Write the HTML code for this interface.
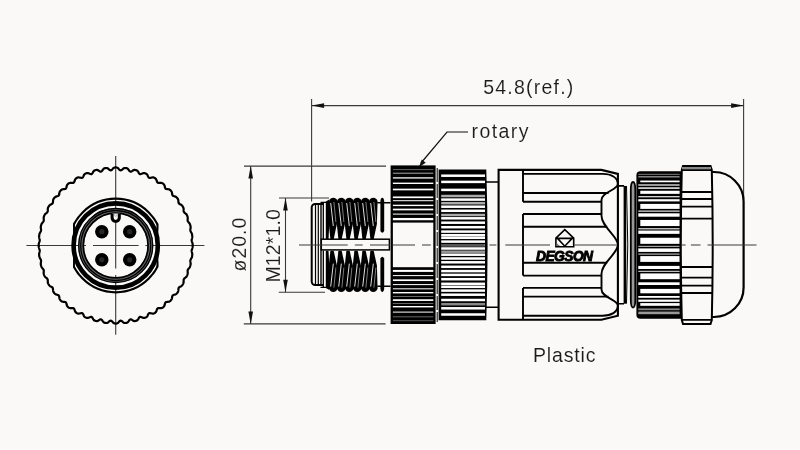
<!DOCTYPE html>
<html><head><meta charset="utf-8"><style>
html,body{margin:0;padding:0;background:#faf9f7;}
svg{display:block;will-change:transform;}
</style></head><body>
<svg width="800" height="450" viewBox="0 0 800 450">
<rect width="800" height="450" fill="#faf9f7"/>
<g stroke="#3a3a3a" stroke-width="1.1" fill="none"><path d="M26.4 245.5H86M93 245.5H138.6M145.4 245.5H204.4"/><path d="M115.7 156V216M115.7 222.5V268.5M115.7 275V334.7"/></g><path d="M192.70 245.50 L192.70 246.00 L192.69 246.51 L192.63 247.01 L192.54 247.51 L192.39 248.01 L192.22 248.51 L192.04 249.00 L191.87 249.49 L191.74 249.98 L191.68 250.48 L191.68 250.98 L191.75 251.49 L191.86 252.00 L192.00 252.51 L192.12 253.03 L192.22 253.54 L192.27 254.05 L192.27 254.56 L192.24 255.07 L192.18 255.57 L192.12 256.07 L192.04 256.57 L191.91 257.06 L191.74 257.54 L191.51 258.02 L191.25 258.48 L190.98 258.94 L190.73 259.41 L190.52 259.88 L190.39 260.36 L190.33 260.85 L190.34 261.37 L190.41 261.89 L190.50 262.42 L190.58 262.96 L190.62 263.49 L190.62 264.01 L190.57 264.51 L190.47 265.01 L190.35 265.50 L190.22 265.99 L190.07 266.47 L189.87 266.94 L189.62 267.40 L189.31 267.83 L188.96 268.25 L188.60 268.66 L188.26 269.08 L187.98 269.51 L187.77 269.96 L187.65 270.45 L187.61 270.97 L187.64 271.50 L187.69 272.06 L187.73 272.61 L187.73 273.15 L187.68 273.67 L187.57 274.17 L187.41 274.66 L187.23 275.13 L187.03 275.60 L186.82 276.05 L186.55 276.49 L186.22 276.90 L185.83 277.27 L185.39 277.63 L184.95 277.97 L184.52 278.33 L184.16 278.71 L183.89 279.13 L183.71 279.60 L183.63 280.11 L183.61 280.66 L183.62 281.24 L183.62 281.81 L183.59 282.36 L183.48 282.88 L183.32 283.37 L183.10 283.83 L182.86 284.27 L182.61 284.71 L182.33 285.14 L181.99 285.53 L181.59 285.88 L181.13 286.18 L180.61 286.46 L180.09 286.72 L179.59 286.99 L179.16 287.31 L178.83 287.68 L178.60 288.13 L178.47 288.64 L178.41 289.21 L178.38 289.80 L178.34 290.39 L178.26 290.95 L178.11 291.47 L177.89 291.94 L177.62 292.37 L177.32 292.78 L177.01 293.19 L176.67 293.57 L176.28 293.90 L175.82 294.18 L175.29 294.40 L174.71 294.58 L174.12 294.74 L173.57 294.92 L173.08 295.16 L172.70 295.48 L172.42 295.90 L172.24 296.41 L172.13 296.99 L172.06 297.60 L171.97 298.21 L171.84 298.78 L171.64 299.29 L171.37 299.73 L171.05 300.13 L170.70 300.50 L170.34 300.86 L169.95 301.19 L169.50 301.46 L168.99 301.66 L168.42 301.78 L167.79 301.85 L167.16 301.91 L166.56 301.99 L166.04 302.14 L165.60 302.41 L165.28 302.79 L165.06 303.29 L164.90 303.87 L164.77 304.50 L164.63 305.12 L164.44 305.69 L164.19 306.19 L163.87 306.61 L163.50 306.96 L163.11 307.28 L162.70 307.59 L162.27 307.86 L161.78 308.06 L161.24 308.18 L160.63 308.20 L159.98 308.16 L159.33 308.10 L158.71 308.08 L158.15 308.14 L157.69 308.34 L157.32 308.68 L157.05 309.17 L156.83 309.75 L156.64 310.39 L156.44 311.01 L156.19 311.58 L155.89 312.06 L155.52 312.44 L155.11 312.74 L154.68 313.01 L154.23 313.26 L153.76 313.47 L153.25 313.60 L152.69 313.62 L152.07 313.54 L151.42 313.39 L150.76 313.22 L150.14 313.09 L149.57 313.06 L149.08 313.19 L148.68 313.49 L148.35 313.95 L148.07 314.53 L147.81 315.16 L147.54 315.78 L147.24 316.33 L146.88 316.78 L146.47 317.12 L146.02 317.37 L145.56 317.58 L145.08 317.77 L144.59 317.91 L144.06 317.96 L143.49 317.90 L142.88 317.72 L142.25 317.46 L141.61 317.18 L141.00 316.94 L140.44 316.83 L139.93 316.89 L139.50 317.14 L139.12 317.57 L138.77 318.13 L138.44 318.74 L138.10 319.35 L137.73 319.87 L137.32 320.28 L136.87 320.57 L136.39 320.76 L135.90 320.90 L135.41 321.03 L134.90 321.10 L134.37 321.08 L133.81 320.93 L133.22 320.66 L132.62 320.30 L132.03 319.91 L131.45 319.59 L130.90 319.39 L130.40 319.39 L129.93 319.58 L129.50 319.97 L129.09 320.49 L128.69 321.08 L128.27 321.64 L127.84 322.13 L127.38 322.49 L126.90 322.72 L126.40 322.85 L125.89 322.92 L125.39 322.98 L124.87 322.99 L124.35 322.89 L123.81 322.66 L123.26 322.30 L122.72 321.86 L122.17 321.39 L121.64 320.99 L121.12 320.72 L120.63 320.64 L120.14 320.78 L119.66 321.11 L119.19 321.59 L118.71 322.12 L118.23 322.63 L117.73 323.06 L117.23 323.36 L116.72 323.53 L116.21 323.59 L115.70 323.60 L115.19 323.59 L114.68 323.53 L114.17 323.36 L113.67 323.06 L113.17 322.63 L112.69 322.12 L112.21 321.59 L111.74 321.11 L111.26 320.78 L110.77 320.64 L110.28 320.72 L109.76 320.99 L109.23 321.39 L108.68 321.86 L108.14 322.30 L107.59 322.66 L107.05 322.89 L106.53 322.99 L106.01 322.98 L105.51 322.92 L105.00 322.85 L104.50 322.72 L104.02 322.49 L103.56 322.13 L103.13 321.64 L102.71 321.08 L102.31 320.49 L101.90 319.97 L101.47 319.58 L101.00 319.39 L100.50 319.39 L99.95 319.59 L99.37 319.91 L98.78 320.30 L98.18 320.66 L97.59 320.93 L97.03 321.08 L96.50 321.10 L95.99 321.03 L95.50 320.90 L95.01 320.76 L94.53 320.57 L94.08 320.28 L93.67 319.87 L93.30 319.35 L92.96 318.74 L92.63 318.13 L92.28 317.57 L91.90 317.14 L91.47 316.89 L90.96 316.83 L90.40 316.94 L89.79 317.18 L89.15 317.46 L88.52 317.72 L87.91 317.90 L87.34 317.96 L86.81 317.91 L86.32 317.77 L85.84 317.58 L85.38 317.37 L84.93 317.12 L84.52 316.78 L84.16 316.33 L83.86 315.78 L83.59 315.16 L83.33 314.53 L83.05 313.95 L82.72 313.49 L82.32 313.19 L81.83 313.06 L81.26 313.09 L80.64 313.22 L79.98 313.39 L79.33 313.54 L78.71 313.62 L78.15 313.60 L77.64 313.47 L77.17 313.26 L76.72 313.01 L76.29 312.74 L75.88 312.44 L75.51 312.06 L75.21 311.58 L74.96 311.01 L74.76 310.39 L74.57 309.75 L74.35 309.17 L74.08 308.68 L73.71 308.34 L73.25 308.14 L72.69 308.08 L72.07 308.10 L71.42 308.16 L70.77 308.20 L70.16 308.18 L69.62 308.06 L69.13 307.86 L68.70 307.59 L68.29 307.28 L67.90 306.96 L67.53 306.61 L67.21 306.19 L66.96 305.69 L66.77 305.12 L66.63 304.50 L66.50 303.87 L66.34 303.29 L66.12 302.79 L65.80 302.41 L65.36 302.14 L64.84 301.99 L64.24 301.91 L63.61 301.85 L62.98 301.78 L62.41 301.66 L61.90 301.46 L61.45 301.19 L61.06 300.86 L60.70 300.50 L60.35 300.13 L60.03 299.73 L59.76 299.29 L59.56 298.78 L59.43 298.21 L59.34 297.60 L59.27 296.99 L59.16 296.41 L58.98 295.90 L58.70 295.48 L58.32 295.16 L57.83 294.92 L57.28 294.74 L56.69 294.58 L56.11 294.40 L55.58 294.18 L55.12 293.90 L54.73 293.57 L54.39 293.19 L54.08 292.78 L53.78 292.37 L53.51 291.94 L53.29 291.47 L53.14 290.95 L53.06 290.39 L53.02 289.80 L52.99 289.21 L52.93 288.64 L52.80 288.13 L52.57 287.68 L52.24 287.31 L51.81 286.99 L51.31 286.72 L50.79 286.46 L50.27 286.18 L49.81 285.88 L49.41 285.53 L49.07 285.14 L48.79 284.71 L48.54 284.27 L48.30 283.83 L48.08 283.37 L47.92 282.88 L47.81 282.36 L47.78 281.81 L47.78 281.24 L47.79 280.66 L47.77 280.11 L47.69 279.60 L47.51 279.13 L47.24 278.71 L46.88 278.33 L46.45 277.97 L46.01 277.63 L45.57 277.27 L45.18 276.90 L44.85 276.49 L44.58 276.05 L44.37 275.60 L44.17 275.13 L43.99 274.66 L43.83 274.17 L43.72 273.67 L43.67 273.15 L43.67 272.61 L43.71 272.06 L43.76 271.50 L43.79 270.97 L43.75 270.45 L43.63 269.96 L43.42 269.51 L43.14 269.08 L42.80 268.66 L42.44 268.25 L42.09 267.83 L41.78 267.40 L41.53 266.94 L41.33 266.47 L41.18 265.99 L41.05 265.50 L40.93 265.01 L40.83 264.51 L40.78 264.01 L40.78 263.49 L40.82 262.96 L40.90 262.42 L40.99 261.89 L41.06 261.37 L41.07 260.85 L41.01 260.36 L40.88 259.88 L40.67 259.41 L40.42 258.94 L40.15 258.48 L39.89 258.02 L39.66 257.54 L39.49 257.06 L39.36 256.57 L39.28 256.07 L39.22 255.57 L39.16 255.07 L39.13 254.56 L39.13 254.05 L39.18 253.54 L39.28 253.03 L39.40 252.51 L39.54 252.00 L39.65 251.49 L39.72 250.98 L39.72 250.48 L39.66 249.98 L39.53 249.49 L39.36 249.00 L39.18 248.51 L39.01 248.01 L38.86 247.51 L38.77 247.01 L38.71 246.51 L38.70 246.00 L38.70 245.50 L38.70 245.00 L38.71 244.49 L38.77 243.99 L38.86 243.49 L39.01 242.99 L39.18 242.49 L39.36 242.00 L39.53 241.51 L39.66 241.02 L39.72 240.52 L39.72 240.02 L39.65 239.51 L39.54 239.00 L39.40 238.49 L39.28 237.97 L39.18 237.46 L39.13 236.95 L39.13 236.44 L39.16 235.93 L39.22 235.43 L39.28 234.93 L39.36 234.43 L39.49 233.94 L39.66 233.46 L39.89 232.98 L40.15 232.52 L40.42 232.06 L40.67 231.59 L40.88 231.12 L41.01 230.64 L41.07 230.15 L41.06 229.63 L40.99 229.11 L40.90 228.58 L40.82 228.04 L40.78 227.51 L40.78 226.99 L40.83 226.49 L40.93 225.99 L41.05 225.50 L41.18 225.01 L41.33 224.53 L41.53 224.06 L41.78 223.60 L42.09 223.17 L42.44 222.75 L42.80 222.34 L43.14 221.92 L43.42 221.49 L43.63 221.04 L43.75 220.55 L43.79 220.03 L43.76 219.50 L43.71 218.94 L43.67 218.39 L43.67 217.85 L43.72 217.33 L43.83 216.83 L43.99 216.34 L44.17 215.87 L44.37 215.40 L44.58 214.95 L44.85 214.51 L45.18 214.10 L45.57 213.73 L46.01 213.37 L46.45 213.03 L46.88 212.67 L47.24 212.29 L47.51 211.87 L47.69 211.40 L47.77 210.89 L47.79 210.34 L47.78 209.76 L47.78 209.19 L47.81 208.64 L47.92 208.12 L48.08 207.63 L48.30 207.17 L48.54 206.73 L48.79 206.29 L49.07 205.86 L49.41 205.47 L49.81 205.12 L50.27 204.82 L50.79 204.54 L51.31 204.28 L51.81 204.01 L52.24 203.69 L52.57 203.32 L52.80 202.87 L52.93 202.36 L52.99 201.79 L53.02 201.20 L53.06 200.61 L53.14 200.05 L53.29 199.53 L53.51 199.06 L53.78 198.63 L54.08 198.22 L54.39 197.81 L54.73 197.43 L55.12 197.10 L55.58 196.82 L56.11 196.60 L56.69 196.42 L57.28 196.26 L57.83 196.08 L58.32 195.84 L58.70 195.52 L58.98 195.10 L59.16 194.59 L59.27 194.01 L59.34 193.40 L59.43 192.79 L59.56 192.22 L59.76 191.71 L60.03 191.27 L60.35 190.87 L60.70 190.50 L61.06 190.14 L61.45 189.81 L61.90 189.54 L62.41 189.34 L62.98 189.22 L63.61 189.15 L64.24 189.09 L64.84 189.01 L65.36 188.86 L65.80 188.59 L66.12 188.21 L66.34 187.71 L66.50 187.13 L66.63 186.50 L66.77 185.88 L66.96 185.31 L67.21 184.81 L67.53 184.39 L67.90 184.04 L68.29 183.72 L68.70 183.41 L69.13 183.14 L69.62 182.94 L70.16 182.82 L70.77 182.80 L71.42 182.84 L72.07 182.90 L72.69 182.92 L73.25 182.86 L73.71 182.66 L74.08 182.32 L74.35 181.83 L74.57 181.25 L74.76 180.61 L74.96 179.99 L75.21 179.42 L75.51 178.94 L75.88 178.56 L76.29 178.26 L76.72 177.99 L77.17 177.74 L77.64 177.53 L78.15 177.40 L78.71 177.38 L79.33 177.46 L79.98 177.61 L80.64 177.78 L81.26 177.91 L81.83 177.94 L82.32 177.81 L82.72 177.51 L83.05 177.05 L83.33 176.47 L83.59 175.84 L83.86 175.22 L84.16 174.67 L84.52 174.22 L84.93 173.88 L85.38 173.63 L85.84 173.42 L86.32 173.23 L86.81 173.09 L87.34 173.04 L87.91 173.10 L88.52 173.28 L89.15 173.54 L89.79 173.82 L90.40 174.06 L90.96 174.17 L91.47 174.11 L91.90 173.86 L92.28 173.43 L92.63 172.87 L92.96 172.26 L93.30 171.65 L93.67 171.13 L94.08 170.72 L94.53 170.43 L95.01 170.24 L95.50 170.10 L95.99 169.97 L96.50 169.90 L97.03 169.92 L97.59 170.07 L98.18 170.34 L98.78 170.70 L99.37 171.09 L99.95 171.41 L100.50 171.61 L101.00 171.61 L101.47 171.42 L101.90 171.03 L102.31 170.51 L102.71 169.92 L103.13 169.36 L103.56 168.87 L104.02 168.51 L104.50 168.28 L105.00 168.15 L105.51 168.08 L106.01 168.02 L106.53 168.01 L107.05 168.11 L107.59 168.34 L108.14 168.70 L108.68 169.14 L109.23 169.61 L109.76 170.01 L110.28 170.28 L110.77 170.36 L111.26 170.22 L111.74 169.89 L112.21 169.41 L112.69 168.88 L113.17 168.37 L113.67 167.94 L114.17 167.64 L114.68 167.47 L115.19 167.41 L115.70 167.40 L116.21 167.41 L116.72 167.47 L117.23 167.64 L117.73 167.94 L118.23 168.37 L118.71 168.88 L119.19 169.41 L119.66 169.89 L120.14 170.22 L120.63 170.36 L121.12 170.28 L121.64 170.01 L122.17 169.61 L122.72 169.14 L123.26 168.70 L123.81 168.34 L124.35 168.11 L124.87 168.01 L125.39 168.02 L125.89 168.08 L126.40 168.15 L126.90 168.28 L127.38 168.51 L127.84 168.87 L128.27 169.36 L128.69 169.92 L129.09 170.51 L129.50 171.03 L129.93 171.42 L130.40 171.61 L130.90 171.61 L131.45 171.41 L132.03 171.09 L132.62 170.70 L133.22 170.34 L133.81 170.07 L134.37 169.92 L134.90 169.90 L135.41 169.97 L135.90 170.10 L136.39 170.24 L136.87 170.43 L137.32 170.72 L137.73 171.13 L138.10 171.65 L138.44 172.26 L138.77 172.87 L139.12 173.43 L139.50 173.86 L139.93 174.11 L140.44 174.17 L141.00 174.06 L141.61 173.82 L142.25 173.54 L142.88 173.28 L143.49 173.10 L144.06 173.04 L144.59 173.09 L145.08 173.23 L145.56 173.42 L146.02 173.63 L146.47 173.88 L146.88 174.22 L147.24 174.67 L147.54 175.22 L147.81 175.84 L148.07 176.47 L148.35 177.05 L148.68 177.51 L149.08 177.81 L149.57 177.94 L150.14 177.91 L150.76 177.78 L151.42 177.61 L152.07 177.46 L152.69 177.38 L153.25 177.40 L153.76 177.53 L154.23 177.74 L154.68 177.99 L155.11 178.26 L155.52 178.56 L155.89 178.94 L156.19 179.42 L156.44 179.99 L156.64 180.61 L156.83 181.25 L157.05 181.83 L157.32 182.32 L157.69 182.66 L158.15 182.86 L158.71 182.92 L159.33 182.90 L159.98 182.84 L160.63 182.80 L161.24 182.82 L161.78 182.94 L162.27 183.14 L162.70 183.41 L163.11 183.72 L163.50 184.04 L163.87 184.39 L164.19 184.81 L164.44 185.31 L164.63 185.88 L164.77 186.50 L164.90 187.13 L165.06 187.71 L165.28 188.21 L165.60 188.59 L166.04 188.86 L166.56 189.01 L167.16 189.09 L167.79 189.15 L168.42 189.22 L168.99 189.34 L169.50 189.54 L169.95 189.81 L170.34 190.14 L170.70 190.50 L171.05 190.87 L171.37 191.27 L171.64 191.71 L171.84 192.22 L171.97 192.79 L172.06 193.40 L172.13 194.01 L172.24 194.59 L172.42 195.10 L172.70 195.52 L173.08 195.84 L173.57 196.08 L174.12 196.26 L174.71 196.42 L175.29 196.60 L175.82 196.82 L176.28 197.10 L176.67 197.43 L177.01 197.81 L177.32 198.22 L177.62 198.63 L177.89 199.06 L178.11 199.53 L178.26 200.05 L178.34 200.61 L178.38 201.20 L178.41 201.79 L178.47 202.36 L178.60 202.87 L178.83 203.32 L179.16 203.69 L179.59 204.01 L180.09 204.28 L180.61 204.54 L181.13 204.82 L181.59 205.12 L181.99 205.47 L182.33 205.86 L182.61 206.29 L182.86 206.73 L183.10 207.17 L183.32 207.63 L183.48 208.12 L183.59 208.64 L183.62 209.19 L183.62 209.76 L183.61 210.34 L183.63 210.89 L183.71 211.40 L183.89 211.87 L184.16 212.29 L184.52 212.67 L184.95 213.03 L185.39 213.37 L185.83 213.73 L186.22 214.10 L186.55 214.51 L186.82 214.95 L187.03 215.40 L187.23 215.87 L187.41 216.34 L187.57 216.83 L187.68 217.33 L187.73 217.85 L187.73 218.39 L187.69 218.94 L187.64 219.50 L187.61 220.03 L187.65 220.55 L187.77 221.04 L187.98 221.49 L188.26 221.92 L188.60 222.34 L188.96 222.75 L189.31 223.17 L189.62 223.60 L189.87 224.06 L190.07 224.53 L190.22 225.01 L190.35 225.50 L190.47 225.99 L190.57 226.49 L190.62 226.99 L190.62 227.51 L190.58 228.04 L190.50 228.58 L190.41 229.11 L190.34 229.63 L190.33 230.15 L190.39 230.64 L190.52 231.12 L190.73 231.59 L190.98 232.06 L191.25 232.52 L191.51 232.98 L191.74 233.46 L191.91 233.94 L192.04 234.43 L192.12 234.93 L192.18 235.43 L192.24 235.93 L192.27 236.44 L192.27 236.95 L192.22 237.46 L192.12 237.97 L192.00 238.49 L191.86 239.00 L191.75 239.51 L191.68 240.02 L191.68 240.52 L191.74 241.02 L191.87 241.51 L192.04 242.00 L192.22 242.49 L192.39 242.99 L192.54 243.49 L192.63 243.99 L192.69 244.49 L192.70 245.00 L192.70 245.50Z" fill="none" stroke="#000" stroke-width="2.2"/><clipPath id="flat"><rect x="73.1" y="150" width="85.2" height="200"/></clipPath><circle cx="115.7" cy="245.5" r="46.8" fill="none" stroke="#000" stroke-width="2.2" clip-path="url(#flat)"/><path d="M74.0 223.59908677703143V267.4009132229686M157.4 223.59908677703143V267.4009132229686" stroke="#000" stroke-width="1.9"/><circle cx="115.7" cy="245.5" r="42.1" fill="none" stroke="#000" stroke-width="4.6"/><circle cx="115.7" cy="245.5" r="34.7" fill="none" stroke="#666" stroke-width="5.8"/><circle cx="115.7" cy="245.5" r="37.0" fill="none" stroke="#000" stroke-width="1.3"/><circle cx="115.7" cy="245.5" r="35.0" fill="none" stroke="#000" stroke-width="1.3"/><circle cx="115.7" cy="245.5" r="32.4" fill="none" stroke="#000" stroke-width="1.7"/><path d="M112.10000000000001 213.4V217.8A3.6 3.6 0 0 0 119.3 217.8V213.4" fill="#faf9f7" stroke="#000" stroke-width="3.0"/><path d="M114.60000000000001 214.2V215.2A1.1 1.1 0 0 0 116.8 215.2V214.2" fill="none" stroke="#999" stroke-width="0.7"/><circle cx="101.8" cy="231.7" r="6.75" fill="#000"/><circle cx="101.8" cy="231.7" r="2.6" fill="#262626"/><circle cx="101.8" cy="259.8" r="6.75" fill="#000"/><circle cx="101.8" cy="259.8" r="2.6" fill="#262626"/><circle cx="129.7" cy="231.7" r="6.75" fill="#000"/><circle cx="129.7" cy="231.7" r="2.6" fill="#262626"/><circle cx="129.7" cy="259.8" r="6.75" fill="#000"/><circle cx="129.7" cy="259.8" r="2.6" fill="#262626"/><g stroke="#3a3a3a" stroke-width="1.1" fill="none"><path d="M311.6 99V201.5M743.6 99V200M311.6 105.6H743.6"/><path d="M244 166.1H386M243.8 323.9H385.6M250.7 166.1V323.9"/><path d="M279 198H329M278.8 292.3H325M285.5 198V292.3"/><path d="M468 132H447L421 163" stroke="#111" stroke-width="1.2"/></g><path d="M311.6 105.6L324.10 103.30L324.10 107.90Z" fill="#111"/><path d="M743.6 105.6L731.10 107.90L731.10 103.30Z" fill="#111"/><path d="M250.7 166.1L253.00 178.60L248.40 178.60Z" fill="#111"/><path d="M250.7 323.9L248.40 311.40L253.00 311.40Z" fill="#111"/><path d="M285.5 198L287.80 210.50L283.20 210.50Z" fill="#111"/><path d="M285.5 292.3L283.20 279.80L287.80 279.80Z" fill="#111"/><path d="M419 167L421.73 159.55L425.76 162.84Z" fill="#111"/><g font-family="Liberation Sans, sans-serif" font-size="19.5" fill="#1a1a1a" stroke="#faf9f7" stroke-width="0.1"><text x="483.2" y="94.2" letter-spacing="1.22">54.8(ref.)</text><text x="471.6" y="137.7" letter-spacing="1.4">rotary</text><text x="533" y="362" letter-spacing="0.85">Plastic</text><text transform="translate(245.6 271.5) rotate(-90)" letter-spacing="1.0">ø20.0</text><text transform="translate(279.6 282.6) rotate(-90)" letter-spacing="0.15">M12*1.0</text></g><path d="M324 204H315.2A3.5 3.5 0 0 0 311.7 207.5V281.5A3.5 3.5 0 0 0 315.2 285H324" fill="none" stroke="#000" stroke-width="2"/><path d="M315.5 204.5V284.5M318.3 204.5V284.5" stroke="#000" stroke-width="1.2"/><path d="M321.0 204V285" stroke="#000" stroke-width="1.4"/><path d="M320.5 202.3H326.5M323.3 202.3V239.2" stroke="#000" stroke-width="1.3" fill="none"/><path d="M325.8 201.5L329.3 199.5V224L328.5 238.9H325.8Z" fill="#000"/><path d="M329.00 201.4 C329.70 196.5 336.90 196.5 337.60 201.4 L336.90 224 L333.70 238.9 L330.40 238.9 L328.80 224Z" fill="#000"/><path d="M330.70 203L333.30 226" stroke="#ddd" stroke-width="1.0"/><path d="M333.90 202L335.90 222" stroke="#999" stroke-width="0.8"/><path d="M337.00 201.4 C337.70 196.5 344.90 196.5 345.60 201.4 L344.90 224 L341.70 238.9 L338.40 238.9 L336.80 224Z" fill="#000"/><path d="M338.70 203L341.30 226" stroke="#ddd" stroke-width="1.0"/><path d="M341.90 202L343.90 222" stroke="#999" stroke-width="0.8"/><path d="M345.00 201.4 C345.70 196.5 352.90 196.5 353.60 201.4 L352.90 224 L349.70 238.9 L346.40 238.9 L344.80 224Z" fill="#000"/><path d="M346.70 203L349.30 226" stroke="#ddd" stroke-width="1.0"/><path d="M349.90 202L351.90 222" stroke="#999" stroke-width="0.8"/><path d="M353.00 201.4 C353.70 196.5 360.90 196.5 361.60 201.4 L360.90 224 L357.70 238.9 L354.40 238.9 L352.80 224Z" fill="#000"/><path d="M354.70 203L357.30 226" stroke="#ddd" stroke-width="1.0"/><path d="M357.90 202L359.90 222" stroke="#999" stroke-width="0.8"/><path d="M361.00 201.4 C361.70 196.5 368.90 196.5 369.60 201.4 L368.90 224 L365.70 238.9 L362.40 238.9 L360.80 224Z" fill="#000"/><path d="M362.70 203L365.30 226" stroke="#ddd" stroke-width="1.0"/><path d="M365.90 202L367.90 222" stroke="#999" stroke-width="0.8"/><path d="M369.00 201.4 C369.70 196.5 376.90 196.5 377.60 201.4 L376.90 224 L373.70 238.9 L370.40 238.9 L368.80 224Z" fill="#000"/><path d="M370.70 203L373.30 226" stroke="#ddd" stroke-width="1.0"/><path d="M373.90 202L375.90 222" stroke="#999" stroke-width="0.8"/><path d="M380.4 201C380.7 196.5 383.9 196.5 384.2 201V231Q382.3 234.5 380.4 231Z" fill="#000"/><path d="M320.5 287.3H326.5M323.3 287.3V250.40000000000003" stroke="#000" stroke-width="1.3" fill="none"/><path d="M325.8 288.1L329.3 290.1V265.6L328.5 250.70000000000002H325.8Z" fill="#000"/><path d="M329.00 288.20000000000005 C329.70 293.1 336.90 293.1 337.60 288.20000000000005 L336.90 265.6 L333.70 250.70000000000002 L330.40 250.70000000000002 L328.80 265.6Z" fill="#000"/><path d="M330.70 286.6L333.30 263.6" stroke="#ddd" stroke-width="1.0"/><path d="M333.90 287.6L335.90 267.6" stroke="#999" stroke-width="0.8"/><path d="M337.00 288.20000000000005 C337.70 293.1 344.90 293.1 345.60 288.20000000000005 L344.90 265.6 L341.70 250.70000000000002 L338.40 250.70000000000002 L336.80 265.6Z" fill="#000"/><path d="M338.70 286.6L341.30 263.6" stroke="#ddd" stroke-width="1.0"/><path d="M341.90 287.6L343.90 267.6" stroke="#999" stroke-width="0.8"/><path d="M345.00 288.20000000000005 C345.70 293.1 352.90 293.1 353.60 288.20000000000005 L352.90 265.6 L349.70 250.70000000000002 L346.40 250.70000000000002 L344.80 265.6Z" fill="#000"/><path d="M346.70 286.6L349.30 263.6" stroke="#ddd" stroke-width="1.0"/><path d="M349.90 287.6L351.90 267.6" stroke="#999" stroke-width="0.8"/><path d="M353.00 288.20000000000005 C353.70 293.1 360.90 293.1 361.60 288.20000000000005 L360.90 265.6 L357.70 250.70000000000002 L354.40 250.70000000000002 L352.80 265.6Z" fill="#000"/><path d="M354.70 286.6L357.30 263.6" stroke="#ddd" stroke-width="1.0"/><path d="M357.90 287.6L359.90 267.6" stroke="#999" stroke-width="0.8"/><path d="M361.00 288.20000000000005 C361.70 293.1 368.90 293.1 369.60 288.20000000000005 L368.90 265.6 L365.70 250.70000000000002 L362.40 250.70000000000002 L360.80 265.6Z" fill="#000"/><path d="M362.70 286.6L365.30 263.6" stroke="#ddd" stroke-width="1.0"/><path d="M365.90 287.6L367.90 267.6" stroke="#999" stroke-width="0.8"/><path d="M369.00 288.20000000000005 C369.70 293.1 376.90 293.1 377.60 288.20000000000005 L376.90 265.6 L373.70 250.70000000000002 L370.40 250.70000000000002 L368.80 265.6Z" fill="#000"/><path d="M370.70 286.6L373.30 263.6" stroke="#ddd" stroke-width="1.0"/><path d="M373.90 287.6L375.90 267.6" stroke="#999" stroke-width="0.8"/><path d="M380.4 288.6C380.7 293.1 383.9 293.1 384.2 288.6V258.6Q382.3 255.10000000000002 380.4 258.6Z" fill="#000"/><path d="M377.3 202.7H390.5M377.3 286.3H390.5" stroke="#000" stroke-width="1.5"/><rect x="321.3" y="239.2" width="68.1" height="10.7" fill="#faf9f7" stroke="#000" stroke-width="1.5"/><rect x="390.6" y="165.4" width="45" height="158.6" fill="#000"/><rect x="392.9" y="222.6" width="40.4" height="44.6" fill="#faf9f7"/><rect x="392.9" y="169.10" width="40.400000000000034" height="1.0" fill="#666"/><rect x="392.9" y="172.70" width="40.400000000000034" height="1.0" fill="#aaa"/><rect x="392.9" y="177.10" width="40.400000000000034" height="1.6" fill="#ccc"/><rect x="392.9" y="182.60" width="40.400000000000034" height="1.4" fill="#fff"/><rect x="392.9" y="188.65" width="40.400000000000034" height="1.7" fill="#fff"/><rect x="392.9" y="196.45" width="40.400000000000034" height="1.7" fill="#fff"/><rect x="392.9" y="200.20" width="40.400000000000034" height="1.0" fill="#fff"/><rect x="392.9" y="204.70" width="40.400000000000034" height="1.4" fill="#fff"/><rect x="392.9" y="208.65" width="40.400000000000034" height="1.7" fill="#fff"/><rect x="392.9" y="213.60" width="40.400000000000034" height="1.0" fill="#fff"/><rect x="392.9" y="217.95" width="40.400000000000034" height="2.3" fill="#fff"/><rect x="392.9" y="269.90" width="40.400000000000034" height="2.0" fill="#fff"/><rect x="392.9" y="275.10" width="40.400000000000034" height="1.0" fill="#fff"/><rect x="392.9" y="279.35" width="40.400000000000034" height="1.7" fill="#fff"/><rect x="392.9" y="284.10" width="40.400000000000034" height="1.0" fill="#fff"/><rect x="392.9" y="288.30" width="40.400000000000034" height="1.0" fill="#fff"/><rect x="392.9" y="292.00" width="40.400000000000034" height="1.4" fill="#fff"/><rect x="392.9" y="296.00" width="40.400000000000034" height="1.0" fill="#666"/><rect x="392.9" y="299.25" width="40.400000000000034" height="1.7" fill="#fff"/><rect x="392.9" y="303.00" width="40.400000000000034" height="1.0" fill="#666"/><rect x="392.9" y="306.00" width="40.400000000000034" height="1.4" fill="#fff"/><rect x="392.9" y="311.60" width="40.400000000000034" height="1.0" fill="#fff"/><rect x="392.9" y="316.30" width="40.400000000000034" height="1.0" fill="#666"/><rect x="392.9" y="320.20" width="40.400000000000034" height="1.0" fill="#555"/><path d="M438.6 169.4H486.3Q488.8 245 486.3 320.2H438.6Z" fill="#000"/><rect x="441.2" y="174.45" width="43.80000000000001" height="2.5" fill="#fff"/><rect x="441.2" y="180.65" width="43.80000000000001" height="2.5" fill="#fff"/><rect x="441.2" y="188.65" width="43.80000000000001" height="2.5" fill="#fff"/><rect x="441.2" y="194.75" width="43.80000000000001" height="2.5" fill="#aaa"/><rect x="441.2" y="198.35" width="43.80000000000001" height="2.5" fill="#fff"/><rect x="441.2" y="201.95" width="43.80000000000001" height="2.5" fill="#aaa"/><rect x="441.2" y="205.45" width="43.80000000000001" height="2.5" fill="#fff"/><rect x="441.2" y="209.55" width="43.80000000000001" height="2.5" fill="#fff"/><rect x="441.2" y="213.75" width="43.80000000000001" height="2.5" fill="#aaa"/><rect x="441.2" y="217.05" width="43.80000000000001" height="2.5" fill="#fff"/><rect x="441.2" y="221.45" width="43.80000000000001" height="2.5" fill="#fff"/><rect x="441.2" y="225.95" width="43.80000000000001" height="2.5" fill="#fff"/><rect x="441.2" y="230.35" width="43.80000000000001" height="2.5" fill="#fff"/><rect x="441.2" y="233.95" width="43.80000000000001" height="2.5" fill="#fff"/><rect x="441.2" y="236.55" width="43.80000000000001" height="2.5" fill="#fff"/><rect x="441.2" y="240.35" width="43.80000000000001" height="2.5" fill="#fff"/><rect x="441.2" y="244.05" width="43.80000000000001" height="2.5" fill="#777"/><rect x="441.2" y="247.25" width="43.80000000000001" height="2.5" fill="#fff"/><rect x="441.2" y="250.45" width="43.80000000000001" height="2.5" fill="#999"/><rect x="441.2" y="253.45" width="43.80000000000001" height="2.5" fill="#fff"/><rect x="441.2" y="257.25" width="43.80000000000001" height="2.5" fill="#fff"/><rect x="441.2" y="261.05" width="43.80000000000001" height="2.5" fill="#fff"/><rect x="441.2" y="265.55" width="43.80000000000001" height="2.5" fill="#fff"/><rect x="441.2" y="269.85" width="43.80000000000001" height="2.5" fill="#fff"/><rect x="441.2" y="273.65" width="43.80000000000001" height="2.5" fill="#fff"/><rect x="441.2" y="277.95" width="43.80000000000001" height="2.5" fill="#fff"/><rect x="441.2" y="282.55" width="43.80000000000001" height="2.5" fill="#fff"/><rect x="441.2" y="285.55" width="43.80000000000001" height="2.5" fill="#fff"/><rect x="441.2" y="289.35" width="43.80000000000001" height="2.5" fill="#fff"/><rect x="441.2" y="293.45" width="43.80000000000001" height="2.5" fill="#fff"/><rect x="441.2" y="298.75" width="43.80000000000001" height="2.5" fill="#fff"/><rect x="441.2" y="302.95" width="43.80000000000001" height="2.5" fill="#888"/><rect x="441.2" y="307.05" width="43.80000000000001" height="2.5" fill="#fff"/><rect x="441.2" y="313.25" width="43.80000000000001" height="2.5" fill="#fff"/><path d="M437.2 168V322" stroke="#000" stroke-width="1.0" stroke-dasharray="14 2"/><path d="M486 182H498.6M486 307.2H498.6" stroke="#000" stroke-width="1.6"/><path d="M498.6 169.9H601.4L617.9 173.9V315.70000000000005L601.4 319.70000000000005H498.6Z" fill="#faf9f7" stroke="#000" stroke-width="2.1" stroke-linejoin="miter"/><path d="M523 173.9H602.8C611 173.9 617.9 177.5 617.9 184C617.9 190 601.5 192 601.5 200V215.8C601.5 227 617.9 236 617.9 244.8M523 315.70000000000005H602.8C611 315.70000000000005 617.9 312.1 617.9 305.6C617.9 299.6 601.5 297.6 601.5 289.6V273.8C601.5 262.6 617.9 253.60000000000002 617.9 244.8" fill="none" stroke="#000" stroke-width="1.9"/><path d="M523 193H608.6M523 296.6H608.6M523 201.7H601.5M523 287.90000000000003H601.5M523 214H601.5M523 275.6H601.5M523 226.8H607.2M523 262.8H607.2M523 169.9V201.7M523 214V275.6M523 287.90000000000003V319.70000000000005" stroke="#000" stroke-width="1.9" fill="none"/><path d="M555.9 238.2L564.8 229.6L573.7 238.2V246.8H555.9Z M555.9 238.4H573.7M557.5 238.4L564.8 246.2L572.1 238.4" fill="none" stroke="#000" stroke-width="1.6" stroke-linejoin="miter"/><path d="M556.6 243L560 246H556.6Z" fill="#777"/><text x="536" y="260.8" font-family="Liberation Sans, sans-serif" font-weight="bold" font-style="italic" font-size="13.8" letter-spacing="-0.55" fill="#000" stroke="#000" stroke-width="0.9">DEGSON</text><path d="M617.9 185.9H624M617.9 303.70000000000005H624" stroke="#000" stroke-width="1.6"/><path d="M624.9 185.9V303.70000000000005" stroke="#000" stroke-width="2.6"/><path d="M626.5 186Q629 245 626.5 303.6" fill="none" stroke="#000" stroke-width="1.0"/><path d="M630.8 299.6V190Q630.8 182 633 182Q635.3 182 635.3 190V299.6Q635.3 307.6 633 307.6Q630.8 307.6 630.8 299.6Z" fill="#999" stroke="#000" stroke-width="1.8"/><path d="M636.4 175.2A4 4 0 0 1 640.4 171.2H681V318.8H640.4A4 4 0 0 1 636.4 314.8Z" fill="#000"/><rect x="638.3" y="173.85" width="41.30000000000007" height="0.9" fill="#888"/><rect x="638.3" y="176.15" width="41.30000000000007" height="1.3" fill="#999"/><rect x="640.3" y="180.55" width="39.30000000000007" height="1.7" fill="#fff"/><rect x="638.3" y="184.10" width="41.30000000000007" height="1.8" fill="#aaa"/><rect x="638.3" y="187.20" width="41.30000000000007" height="1.8" fill="#ccc"/><rect x="640.3" y="190.75" width="39.30000000000007" height="3.1" fill="#fff"/><rect x="638.3" y="196.05" width="41.30000000000007" height="1.3" fill="#ddd"/><rect x="638.3" y="199.20" width="41.30000000000007" height="2.2" fill="#fff"/><rect x="640.3" y="203.90" width="39.30000000000007" height="5.0" fill="#fff"/><rect x="638.3" y="210.55" width="41.30000000000007" height="1.1" fill="#fff"/><rect x="638.3" y="213.30" width="41.30000000000007" height="3.4" fill="#fff"/><rect x="640.3" y="219.95" width="39.30000000000007" height="6.1" fill="#fff"/><rect x="638.3" y="228.25" width="41.30000000000007" height="1.1" fill="#fff"/><rect x="638.3" y="230.55" width="41.30000000000007" height="3.3" fill="#fff"/><rect x="640.3" y="237.75" width="39.30000000000007" height="6.1" fill="#fff"/><rect x="638.3" y="245.85" width="41.30000000000007" height="0.9" fill="#ddd"/><rect x="638.3" y="248.40" width="41.30000000000007" height="3.5" fill="#fff"/><rect x="638.3" y="253.40" width="41.30000000000007" height="1.4" fill="#999"/><rect x="640.3" y="256.10" width="39.30000000000007" height="5.8" fill="#fff"/><rect x="638.3" y="265.90" width="41.30000000000007" height="3.1" fill="#fff"/><rect x="638.3" y="270.80" width="41.30000000000007" height="1.0" fill="#eee"/><rect x="640.3" y="273.40" width="39.30000000000007" height="5.8" fill="#fff"/><rect x="638.3" y="282.30" width="41.30000000000007" height="2.7" fill="#fff"/><rect x="640.3" y="288.90" width="39.30000000000007" height="4.4" fill="#fff"/><rect x="638.3" y="296.00" width="41.30000000000007" height="1.8" fill="#fff"/><rect x="638.3" y="299.60" width="41.30000000000007" height="2.2" fill="#fff"/><rect x="640.3" y="303.10" width="39.30000000000007" height="2.7" fill="#fff"/><rect x="638.3" y="308.40" width="41.30000000000007" height="1.8" fill="#888"/><rect x="638.3" y="311.60" width="41.30000000000007" height="2.6" fill="#999"/><path d="M683 166H710.5L711.8 170Q713.6 245 711.8 320L710.5 324H683L681.8 320Q679.8 245 681.8 170Z" fill="#faf9f7" stroke="#000" stroke-width="2"/><rect x="682" y="167" width="29" height="2.6" fill="#888"/><path d="M681.5 170.2H712M681.5 319.9H712" stroke="#000" stroke-width="1.8"/><path d="M681 192H712M681 199H712M681 206.6H712M681 218.6H712M681 267H712M681 277.6H712M681 285.6H712M681 293H712" stroke="#000" stroke-width="1.8"/><path d="M712.2 172H714A29.6 29.6 0 0 1 743.6 201.6V287.4A29.6 29.6 0 0 1 714 317H712.2" fill="none" stroke="#000" stroke-width="2.2"/><path d="M299 245H347.7M354.8 245H362.7M370 245H390M393 245H415M422 245H430.8M441 245H484M489.4 245H496.4M505.3 245H550M574.4 245H616.6M682 245H685.6M690.9 245H700.5M707.5 245H756.5" stroke="#3a3a3a" stroke-width="1.1" fill="none"/>
</svg></body></html>
